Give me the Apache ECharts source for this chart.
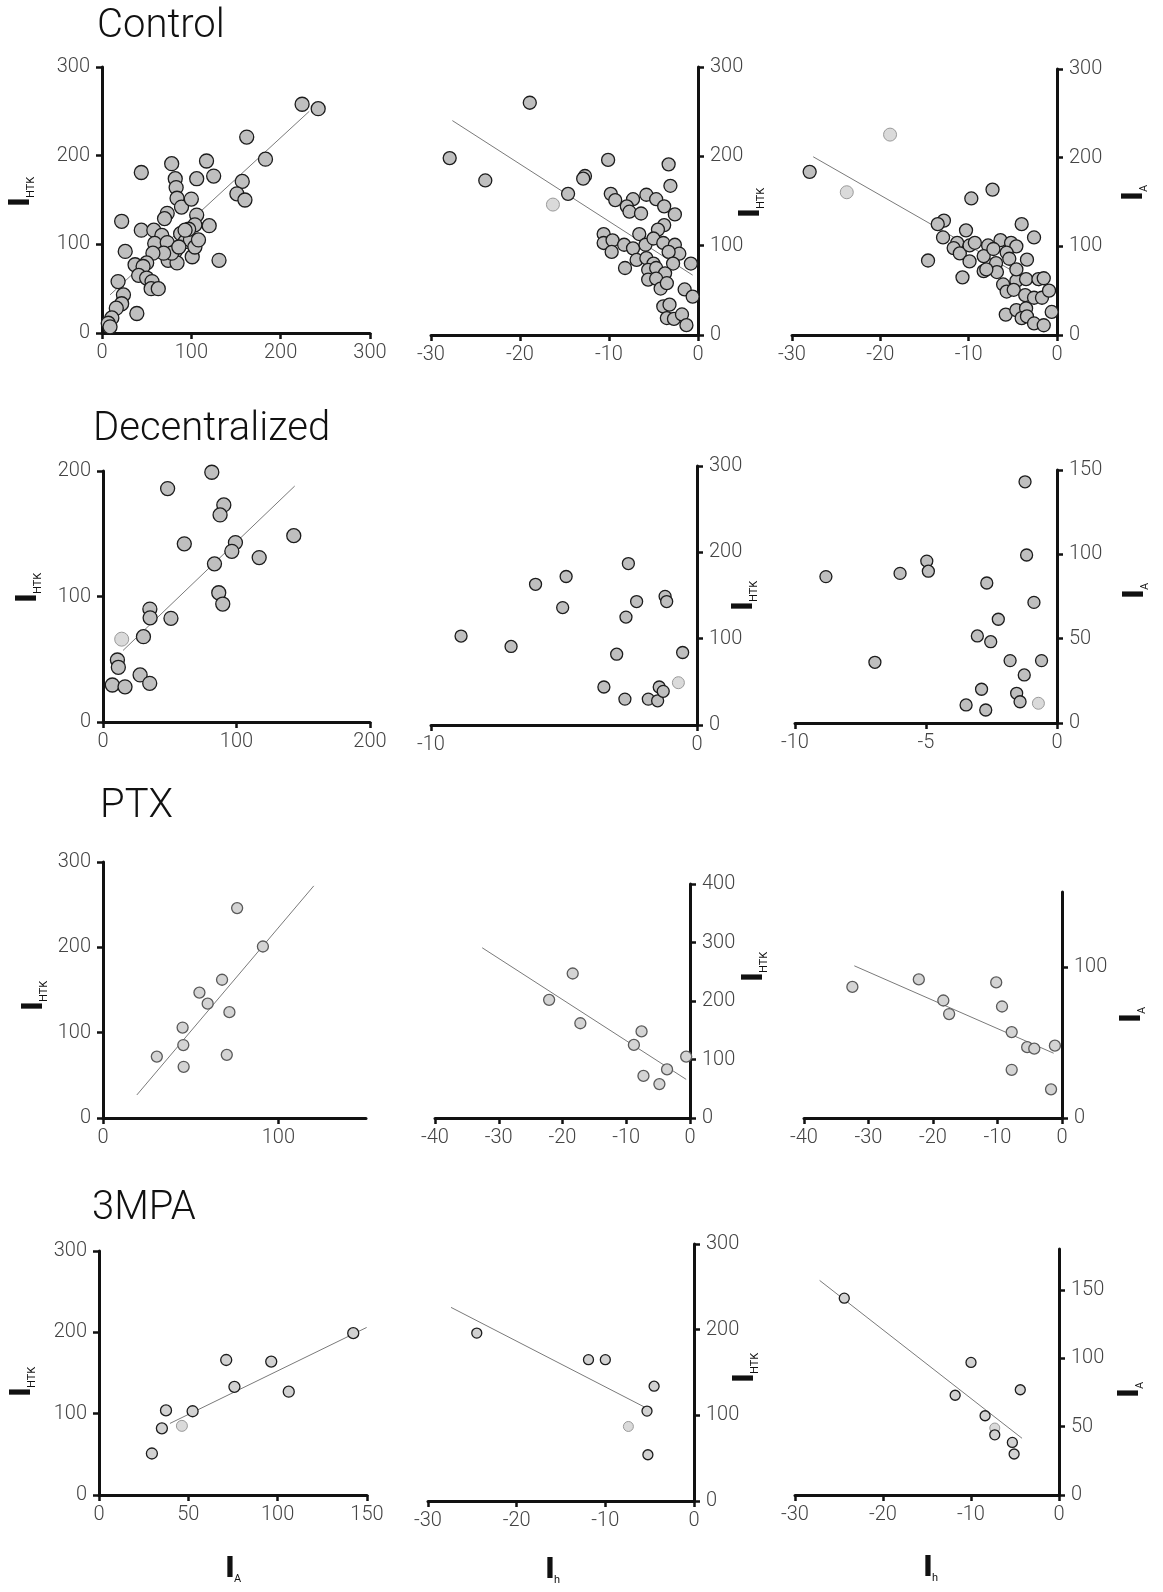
<!DOCTYPE html>
<html>
<head>
<meta charset="utf-8">
<title>IHTK / IA / Ih correlations</title>
<script src="https://cdn.jsdelivr.net/npm/echarts@6.0.0/dist/echarts.min.js"></script>
<style>
  html, body { margin: 0; padding: 0; background: #fff; }
  #chart { width: 1163px; height: 1592px; }
</style>
</head>
<body>
<div id="chart"></div>
<script>
// tick values
const tk300 = [0, 100, 200, 300];
const tk400 = [0, 100, 200, 300, 400];
const tk200 = [0, 100, 200];
const tk150 = [0, 50, 100, 150];
const tk100 = [0, 100];
const tkNeg40 = [-40, -30, -20, -10, 0];
const tkNeg30 = [-30, -20, -10, 0];
const tkNeg10 = [-10, 0];
const tkNeg10by5 = [-10, -5, 0];

// Control
const controlIaHtk = [
  [224, 258], [242, 253], [162, 221], [183, 196], [117, 194], [78, 191], [44, 181], [125, 177], [106, 174], [82, 174],
  [83, 164], [157, 171], [151, 157], [160, 150], [84, 152], [89, 142], [100, 151], [73, 135], [70, 129], [106, 133],
  [104, 122], [120, 121], [22, 126], [44, 116], [58, 116], [67, 110], [59, 101], [73, 102], [88, 112], [93, 103],
  [99, 105], [82, 92], [74, 82], [84, 79], [101, 86], [78, 90], [69, 90], [57, 90], [50, 79], [26, 92],
  [37, 77], [46, 75], [131, 82], [41, 65], [50, 62], [56, 58], [55, 50], [63, 50], [18, 58], [24, 43],
  [22, 33], [16, 28], [39, 22], [11, 17], [7, 11], [9, 7], [97, 117], [86, 97], [104, 97], [108, 105], [93, 116]
];
const controlIaHtkFit = [[9, 43], [232, 250]];

const controlIhHtk = [
  [-18.9, 260], [-27.9, 198], [-23.9, 173], [-14.6, 158], [-12.7, 178], [-12.9, 175], [-10.1, 196], [-3.3, 191], [-3.1, 167],
  [-9.8, 158], [-9.3, 151], [-7.3, 152], [-8.0, 144], [-7.7, 138], [-6.4, 136], [-5.8, 157], [-4.7, 152], [-3.8, 144], [-2.6, 135],
  [-3.8, 123], [-4.5, 118], [-6.6, 113], [-10.6, 113], [-10.6, 103], [-9.6, 106], [-9.7, 93], [-8.3, 101], [-7.3, 97], [-5.9, 101],
  [-5.0, 108], [-3.9, 103], [-2.6, 101], [-2.1, 91], [-3.3, 93], [-2.8, 80], [-0.8, 80], [-8.2, 75], [-6.9, 84], [-5.8, 86],
  [-5.0, 80], [-5.6, 73], [-4.7, 75], [-3.7, 69], [-5.6, 62], [-4.7, 63], [-4.2, 52], [-3.5, 58], [-1.5, 51], [-0.6, 43],
  [-3.9, 32], [-3.2, 34], [-3.5, 19], [-2.7, 18], [-1.8, 23], [-1.3, 11]
];
const controlIhHtkPale = [[-16.3, 146]];
const controlIhHtkFit = [[-27.6, 240], [-0.6, 67]];

const controlIhIa = [
  [-28, 184], [-7.3, 164], [-9.7, 154], [-14.6, 84], [-12.8, 129], [-13.5, 125], [-12.9, 110], [-10.3, 118], [-4.0, 125], [-2.6, 110],
  [-11.3, 104], [-11.7, 98], [-11.0, 92], [-9.9, 83], [-9.9, 101], [-9.3, 104], [-7.8, 101], [-8.3, 89], [-6.4, 107], [-5.2, 104],
  [-4.6, 100], [-5.7, 93], [-5.4, 86], [-3.4, 85], [-6.9, 81], [-6.8, 71], [-8.3, 72], [-10.7, 65], [-6.1, 57], [-4.6, 61],
  [-3.5, 63], [-2.1, 63], [-1.5, 64], [-5.7, 49], [-4.9, 51], [-3.6, 45], [-2.6, 42], [-1.7, 42], [-0.9, 50], [-0.6, 26],
  [-5.8, 23], [-4.6, 28], [-3.5, 30], [-4.0, 19], [-3.4, 21], [-2.6, 13], [-1.5, 11], [-7.2, 97], [-8.0, 74], [-4.6, 74]
];
const controlIhIaPale = [[-18.9, 226], [-23.8, 161]];
const controlIhIaFit = [[-27.6, 201], [-2, 55]];

// Decentralized
const decIaHtk = [
  [81.5, 199], [48.4, 186], [90.5, 173], [87.7, 165], [142.9, 148.5], [60.9, 142], [99.2, 143], [96.5, 136], [117, 131], [83.5, 126],
  [86.7, 103], [89.7, 94], [35.1, 90], [35.3, 83], [50.9, 82.6], [30.3, 68], [10.8, 49.4], [11.5, 43.6], [27.8, 37.5], [35, 30.8],
  [7, 29.5], [16.5, 28]
];
const decIaHtkPale = [[14, 66]];
const decIaHtkFit = [[15, 57], [143.6, 188]];

const decIhHtk = [
  [-8.87, 103], [-6.99, 91], [-6.07, 163], [-4.92, 172], [-5.05, 136], [-2.58, 187], [-2.27, 143], [-2.67, 125], [-1.2, 149], [-1.14, 143],
  [-3.02, 82], [-0.54, 84], [-3.5, 44], [-2.71, 30], [-1.83, 30], [-1.48, 28], [-1.42, 44], [-1.27, 39]
];
const decIhHtkPale = [[-0.7, 49]];

const decIhIa = [
  [-1.22, 143], [-1.16, 99.6], [-4.97, 96], [-4.91, 90], [-5.99, 88.7], [-8.82, 86.8], [-2.68, 83], [-0.88, 71.5], [-2.24, 61.5], [-3.04, 51.6],
  [-2.53, 48.2], [-6.95, 36], [-1.79, 37], [-0.59, 37], [-1.25, 28.5], [-2.88, 20], [-1.54, 17.6], [-1.41, 12.6], [-3.47, 10.7], [-2.72, 7.7]
];
const decIhIaPale = [[-0.71, 11.7]];

// PTX
const ptxIaHtk = [[76.5, 246], [91.2, 201], [67.9, 162], [55, 147], [59.7, 134], [72.1, 124], [45.4, 106], [45.8, 85.5], [30.7, 72], [70.6, 74], [46, 60]];
const ptxIaHtkFit = [[19.3, 27], [120.2, 272]];
const ptxIhHtk = [[-18.4, 247], [-22.1, 202], [-17.2, 162], [-7.6, 148], [-8.8, 125], [-0.6, 105], [-3.6, 83], [-7.3, 72], [-4.8, 58]];
const ptxIhHtkFit = [[-32.6, 291], [-0.6, 66]];
const ptxIhIa = [[-32.5, 87], [-22.2, 92], [-10.2, 90], [-18.4, 78], [-17.5, 69], [-9.3, 74], [-7.8, 57], [-5.4, 47], [-4.3, 46], [-1.1, 48], [-7.8, 32], [-1.7, 19]];
const ptxIhIaFit = [[-32.2, 101], [-1.3, 43]];

// 3MPA
const mpaIaHtk = [[142.3, 199], [71.2, 166], [96.4, 164], [75.8, 133], [106.2, 127], [37.5, 104], [52.4, 103], [35.2, 82], [29.6, 51]];
const mpaIaHtkPale = [[46.4, 85]];
const mpaIaHtkFit = [[39.7, 88], [149.8, 206]];
const mpaIhHtk = [[-24.5, 196], [-11.9, 165], [-10, 165], [-4.5, 134], [-5.3, 105], [-5.2, 54]];
const mpaIhHtkPale = [[-7.4, 87]];
const mpaIhHtkFit = [[-27.4, 226], [-4.9, 106]];
const mpaIhIa = [[-24.4, 144], [-10, 97], [-11.8, 73], [-4.4, 77], [-8.4, 58], [-7.3, 44], [-5.3, 38.5], [-5.1, 30]];
const mpaIhIaPale = [[-7.3, 49]];
const mpaIhIaFit = [[-27.2, 157], [-4.2, 41.5]];

// panel layout (grid box in px: left, top, width, height)
const panels = [
  { box: [102, 67, 268, 266], xr: [0, 300], yr: [0, 300], xt: tk300, yt: tk300, yPos: 'left', pts: controlIaHtk, pale: [], fit: controlIaHtkFit, size: 14, row: 0 },
  { box: [431, 67, 267, 268], xr: [-30, 0], yr: [0, 300], xt: tkNeg30, yt: tk300, yPos: 'right', pts: controlIhHtk, pale: controlIhHtkPale, fit: controlIhHtkFit, size: 13, row: 0 },
  { box: [792, 69, 265, 266], xr: [-30, 0], yr: [0, 300], xt: tkNeg30, yt: tk300, yPos: 'right', pts: controlIhIa, pale: controlIhIaPale, fit: controlIhIaFit, size: 13, row: 0 },
  { box: [103, 471, 267, 251], xr: [0, 200], yr: [0, 200], xt: tk200, yt: tk200, yPos: 'left', pts: decIaHtk, pale: decIaHtkPale, fit: decIaHtkFit, size: 14, row: 1 },
  { box: [431, 466, 266, 259], xr: [-10, 0], yr: [0, 300], xt: tkNeg10, yt: tk300, yPos: 'right', pts: decIhHtk, pale: decIhHtkPale, fit: null, size: 12, row: 1 },
  { box: [795, 470, 262, 253], xr: [-10, 0], yr: [0, 150], xt: tkNeg10by5, yt: tk150, yPos: 'right', pts: decIhIa, pale: decIhIaPale, fit: null, size: 12, row: 1 },
  { box: [103, 862, 263, 256], xr: [0, 150], yr: [0, 300], xt: tk100, yt: tk300, yPos: 'left', pts: ptxIaHtk, pale: [], fit: ptxIaHtkFit, size: 11, row: 2 },
  { box: [435, 884, 255, 234], xr: [-40, 0], yr: [0, 400], xt: tkNeg40, yt: tk400, yPos: 'right', pts: ptxIhHtk, pale: [], fit: ptxIhHtkFit, size: 11, row: 2 },
  { box: [804, 892, 258, 226], xr: [-40, 0], yr: [0, 150], xt: tkNeg40, yt: tk100, yPos: 'right', pts: ptxIhIa, pale: [], fit: ptxIhIaFit, size: 11, row: 2 },
  { box: [99, 1251, 268, 244], xr: [0, 150], yr: [0, 300], xt: tk150, yt: tk300, yPos: 'left', pts: mpaIaHtk, pale: mpaIaHtkPale, fit: mpaIaHtkFit, size: 11, row: 3 },
  { box: [428, 1244, 266, 257], xr: [-30, 0], yr: [0, 300], xt: tkNeg30, yt: tk300, yPos: 'right', pts: mpaIhHtk, pale: mpaIhHtkPale, fit: mpaIhHtkFit, size: 10, row: 3 },
  { box: [795, 1249, 264, 246], xr: [-30, 0], yr: [0, 180], xt: tkNeg30, yt: tk150, yPos: 'right', pts: mpaIhIa, pale: mpaIhIaPale, fit: mpaIhIaFit, size: 10, row: 3 }
];

const rowStyle = [
  { color: '#bfbfbf', borderColor: '#1c1c1c' },
  { color: '#bfbfbf', borderColor: '#1c1c1c' },
  { color: '#d4d4d4', borderColor: '#5a5a5a' },
  { color: '#d2d2d2', borderColor: '#1c1c1c' }
];
const paleStyle = { color: '#dadada', borderColor: '#9a9a9a' };

const FONT = 'Roboto, "DejaVu Sans", sans-serif';

// 常用坐标轴
const makeAxis = (i, range, ticks, pos) => ({
  type: 'value', gridIndex: i, min: range[0], max: range[1], position: pos,
  axisLine: { onZero: false, lineStyle: { color: '#111', width: 3 } },
  axisTick: { customValues: ticks, length: 6, lineStyle: { color: '#111', width: 2.5 } },
  axisLabel: {
    customValues: ticks, margin: pos === 'bottom' ? 10 : 12,
    color: '#444', fontSize: 20, fontFamily: FONT, fontWeight: 300
  },
  splitLine: { show: false }
})

const option = { animation: false, backgroundColor: '#fff', grid: [], xAxis: [], yAxis: [], series: [], graphic: [] };

panels.forEach((p, i) => {
  option.grid.push({ left: p.box[0], top: p.box[1], width: p.box[2], height: p.box[3] });
  option.xAxis.push(makeAxis(i, p.xr, p.xt, 'bottom'));
  option.yAxis.push(makeAxis(i, p.yr, p.yt, p.yPos));
  if (p.fit) {
    option.series.push({
      type: 'line', xAxisIndex: i, yAxisIndex: i, data: p.fit, showSymbol: false, z: 1,
      lineStyle: { color: '#7a7a7a', width: 1 }
    });
  }
  option.series.push({
    type: 'scatter', xAxisIndex: i, yAxisIndex: i, data: p.pts, symbolSize: p.size, z: 3,
    itemStyle: { ...rowStyle[p.row], borderWidth: 1.3, opacity: 1 }
  });
  if (p.pale.length) {
    option.series.push({
      type: 'scatter', xAxisIndex: i, yAxisIndex: i, data: p.pale, symbolSize: p.size, z: 2,
      itemStyle: { ...paleStyle, borderWidth: 1, opacity: 1 }
    });
  }
});

// 标题
const titles = [['Control', 97, 27], ['Decentralized', 93, 430], ['PTX', 100, 807], ['3MPA', 92, 1209]];
titles.forEach(([t, x, y]) => {
  option.graphic.push({
    type: 'text', x, y,
    style: { text: t, fill: '#111', font: `300 40px ${FONT}`, verticalAlign: 'middle', align: 'left' }
  });
});

// 轴名 I with subscript
const axisName = (x, y, sub, rotated) => ({
  type: 'group', x, y, rotation: rotated ? Math.PI / 2 : 0,
  children: [
    { type: 'text', x: 0, y: 0, style: { text: 'I', fill: '#111', font: 'bold 28px "DejaVu Sans", sans-serif', align: 'center', verticalAlign: 'middle' } },
    { type: 'text', x: 4, y: 9, style: { text: sub, fill: '#111', font: `11px ${FONT}`, align: 'left', verticalAlign: 'middle' } }
  ]
});
const yNames = [
  [22, 202, 'HTK'], [752, 213, 'HTK'], [1135, 196, 'A'],
  [29, 598, 'HTK'], [745, 606, 'HTK'], [1136, 594, 'A'],
  [35, 1006, 'HTK'], [755, 977, 'HTK'], [1133, 1018, 'A'],
  [23, 1392, 'HTK'], [746, 1378, 'HTK'], [1131, 1393, 'A']
];
yNames.forEach(([x, y, s]) => option.graphic.push(axisName(x, y, s, true)));
const xNames = [[230, 1570, 'A'], [550, 1571, 'h'], [928, 1569, 'h']];
xNames.forEach(([x, y, s]) => option.graphic.push(axisName(x, y, s, false)));

const chart = echarts.init(document.getElementById('chart'));
chart.setOption(option);
</script>
</body>
</html>
